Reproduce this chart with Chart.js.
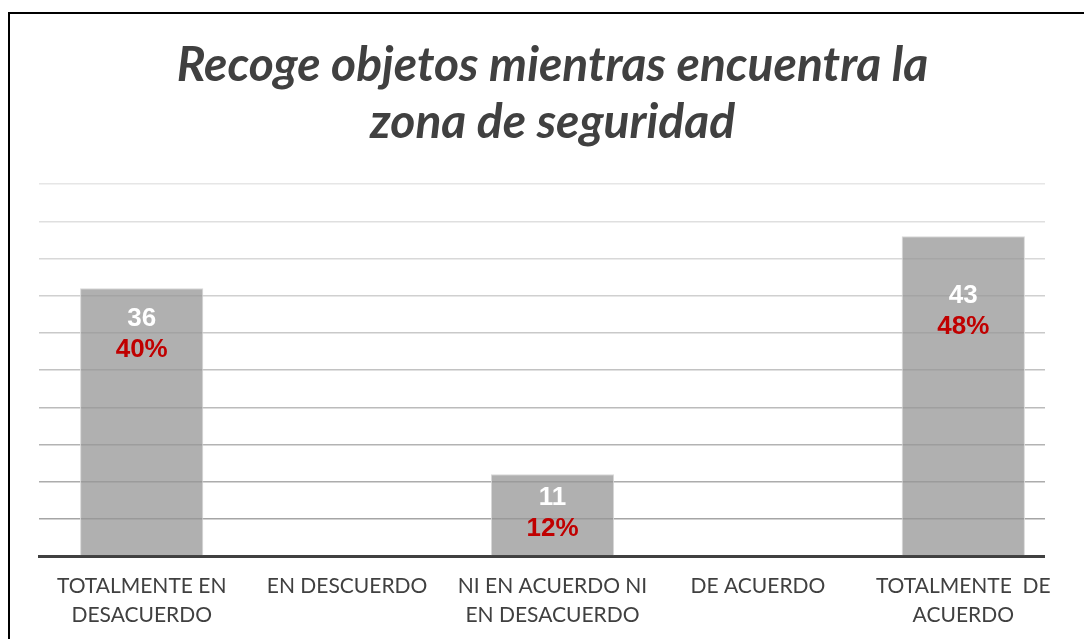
<!DOCTYPE html>
<html>
<head>
<meta charset="utf-8">
<script src="https://cdn.jsdelivr.net/npm/chart.js@4.4.1/dist/chart.umd.min.js"></script>
<style>
  body { margin: 0; background: #fff; }
  #wrap { position: relative; width: 1084px; height: 639px; overflow: hidden; }
  #frame { position: absolute; left: 8px; top: 12px; width: 2000px; height: 2000px;
           border: 2px solid #000; pointer-events: none; }
</style>
</head>
<body>
<div id="wrap">
  <canvas id="grafico" width="1084" height="639"></canvas>
  <div id="frame"></div>
</div>
<script>
var categorias = [
  ['TOTALMENTE EN', 'DESACUERDO'],
  'EN DESCUERDO',
  ['NI EN ACUERDO NI', 'EN DESACUERDO'],
  'DE ACUERDO',
  ['TOTALMENTE  DE', 'ACUERDO']
];
var respuestas = [36, 0, 11, 0, 43];
var porcentajes = ['40%', '', '12%', '', '48%'];
var titulo = ['Recoge objetos mientras encuentra la', 'zona de seguridad'];

// etiquetas dentro de las barras (cantidad en blanco, porcentaje en rojo)
var etiquetasBarras = {
  id: 'etiquetasBarras',
  afterDatasetsDraw: function(chart, args, opts) {
    var ctx = chart.ctx;
    var meta = chart.getDatasetMeta(0);
    ctx.save();
    ctx.textAlign = 'center';
    ctx.textBaseline = 'middle';
    ctx.font = 'bold 26px "Liberation Sans", Arial, sans-serif';
    meta.data.forEach(function(bar, i) {
      if (!respuestas[i]) return;
      var off = opts.offsets[i];
      ctx.fillStyle = '#ffffff';
      ctx.fillText(respuestas[i], bar.x, bar.y + off);
      ctx.fillStyle = '#c00000';
      ctx.fillText(porcentajes[i], bar.x, bar.y + off + 31);
    });
    ctx.restore();
  }
};

// la cuadricula termina antes del borde derecho del area
var recorteGrid = {
  id: 'recorteGrid',
  afterDraw: function(chart, args, opts) {
    var a = chart.chartArea;
    var ctx = chart.ctx;
    ctx.save();
    ctx.fillStyle = '#ffffff';
    ctx.fillRect(a.right - opts.trim, a.top - 3, opts.trim + 5, a.bottom - a.top + 8);
    ctx.restore();
  }
};

var chart = new Chart(document.getElementById('grafico'), {
  type: 'bar',
  data: {
    labels: categorias,
    datasets: [{
      data: respuestas,
      backgroundColor: 'rgba(150,150,150,0.75)',
      borderColor: '#d9d9d9',
      borderWidth: 1,
      barPercentage: 0.6,
      categoryPercentage: 1
    }]
  },
  plugins: [etiquetasBarras, recorteGrid],
  options: {
    responsive: false,
    animation: false,
    layout: { padding: { left: 39, right: 18, top: 0, bottom: 8 } },
    plugins: {
      legend: { display: false },
      tooltip: { enabled: false },
      title: {
        display: true,
        text: titulo,
        color: '#404040',
        font: { family: 'Lato', size: 48, weight: 'bold', style: 'italic', lineHeight: 1.19 },
        padding: { top: 37, bottom: 33 }
      },
      etiquetasBarras: { offsets: [30, 0, 24, 0, 60] },
      recorteGrid: { trim: 21 }
    },
    scales: {
      x: {
        grid: { display: false, drawTicks: false },
        border: { display: true, color: '#404040', width: 3 },
        afterFit: function(scale) { scale.height -= 15; },
        ticks: {
          color: '#404040',
          font: { family: 'Lato', size: 21, lineHeight: 1.38 },
          padding: 16,
          maxRotation: 0,
          autoSkip: false
        }
      },
      y: {
        min: 0,
        max: 50,
        ticks: { display: false, stepSize: 5 },
        border: { display: false },
        grid: {
          drawTicks: false,
          lineWidth: 1.5,
          color: function(c) {
            var g = Math.round(165 + (c.tick.value - 5) / 45 * 65);
            return 'rgb(' + g + ',' + g + ',' + g + ')';
          }
        }
      }
    }
  }
});
</script>
</body>
</html>
